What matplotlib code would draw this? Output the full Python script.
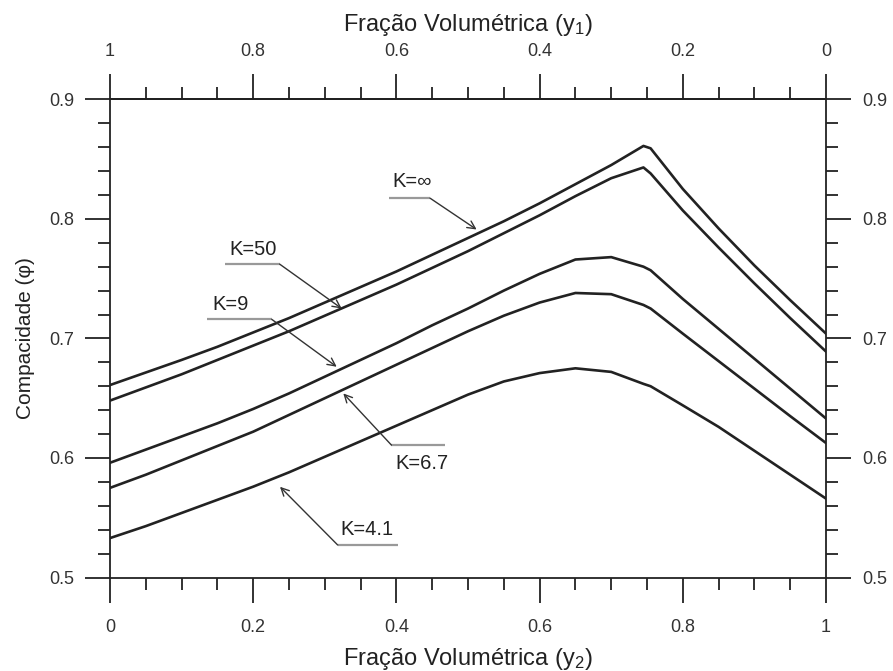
import matplotlib
matplotlib.use('Agg')
import matplotlib.pyplot as plt
from matplotlib.ticker import MultipleLocator, FixedLocator, FuncFormatter

plt.rcParams['font.family'] = ['Liberation Sans', 'DejaVu Sans']
plt.rcParams['mathtext.default'] = 'regular'

# volume fraction y2 (bottom axis); y1 = 1 - y2 on top axis
y2 = [0, 0.05, 0.1, 0.15, 0.2, 0.25, 0.3, 0.35, 0.4, 0.45, 0.5, 0.55, 0.6, 0.65, 0.7,
      0.745, 0.755, 0.8, 0.85, 0.9, 0.95, 1.0]

# packing density for each K
k_inf = [0.661, 0.6715, 0.682, 0.693, 0.705, 0.717, 0.730, 0.743, 0.756, 0.770, 0.784,
         0.798, 0.813, 0.829, 0.845, 0.861, 0.859, 0.825, 0.792, 0.761, 0.732, 0.704]
k_50 = [0.648, 0.659, 0.670, 0.682, 0.694, 0.706, 0.719, 0.732, 0.745, 0.759, 0.773,
        0.788, 0.803, 0.819, 0.834, 0.843, 0.838, 0.807, 0.776, 0.746, 0.717, 0.689]
k_9 = [0.596, 0.607, 0.618, 0.629, 0.641, 0.654, 0.668, 0.682, 0.696, 0.711, 0.725,
       0.740, 0.754, 0.766, 0.768, 0.760, 0.757, 0.733, 0.708, 0.683, 0.658, 0.633]
k_67 = [0.575, 0.586, 0.598, 0.610, 0.622, 0.636, 0.650, 0.664, 0.678, 0.692, 0.706,
        0.719, 0.730, 0.738, 0.737, 0.728, 0.725, 0.704, 0.681, 0.658, 0.635, 0.6125]
k_41 = [0.533, 0.543, 0.554, 0.565, 0.576, 0.588, 0.601, 0.614, 0.627, 0.640, 0.653,
        0.664, 0.671, 0.675, 0.672, 0.662, 0.660, 0.644, 0.626, 0.606, 0.586, 0.566]

curves = [k_inf, k_50, k_9, k_67, k_41]

# annotation labels: text, text centre, underline (x0, x1, y), arrow tip
labels = ['K=∞', 'K=50', 'K=9', 'K=6.7', 'K=4.1']
text_xy = [(0.422, 0.8315), (0.200, 0.774), (0.168, 0.728), (0.436, 0.5953), (0.359, 0.540)]
under = [(0.390, 0.447, 0.8173), (0.161, 0.237, 0.7621), (0.135, 0.226, 0.7159),
         (0.468, 0.393, 0.6108), (0.402, 0.318, 0.5272)]
tips = [(0.512, 0.7911), (0.3236, 0.725), (0.3166, 0.6763), (0.3258, 0.654), (0.2374, 0.5759)]

fig = plt.figure(figsize=(8.93, 6.71), dpi=100)
ax = fig.add_axes([0.1232, 0.1393, 0.8018, 0.7127])

for c in curves:
    ax.plot(y2, c, color='#222222', lw=1.9, solid_joinstyle='round')

for lab, txy, u, tip in zip(labels, text_xy, under, tips):
    ax.text(txy[0], txy[1], lab, ha='center', va='center', fontsize=14.5, color='#222222')
    ax.plot([u[0], u[1]], [u[2], u[2]], color='#999999', lw=1.6, solid_capstyle='butt')
    ax.annotate('', xy=tip, xytext=(u[1], u[2]),
                arrowprops=dict(arrowstyle='->', color='#333333', lw=1.0,
                                shrinkA=0, shrinkB=0, mutation_scale=14))

ax.set_xlim(0, 1)
ax.set_ylim(0.5, 0.9)

fmt = FuncFormatter(lambda v, p: '%g' % round(v, 2))
ax.xaxis.set_major_locator(MultipleLocator(0.2))
ax.xaxis.set_minor_locator(MultipleLocator(0.05))
ax.yaxis.set_major_locator(MultipleLocator(0.1))
ax.yaxis.set_minor_locator(MultipleLocator(0.02))
ax.xaxis.set_major_formatter(fmt)
ax.yaxis.set_major_formatter(fmt)

for s in ax.spines.values():
    s.set_linewidth(1.3)
    s.set_color('#222222')

ax.tick_params(which='both', direction='out', width=1.3, color='#222222',
               labelsize=13, labelcolor='#333333', top=False, right=True, labelright=True)
ax.tick_params(which='major', length=18)
ax.tick_params(which='minor', length=8.5)
ax.tick_params(axis='x', which='major', pad=12)
ax.tick_params(axis='y', which='major', pad=8)

sec = ax.secondary_xaxis('top', functions=(lambda x: 1 - x, lambda x: 1 - x))
sec.xaxis.set_major_locator(FixedLocator([1, 0.8, 0.6, 0.4, 0.2, 0]))
sec.xaxis.set_minor_locator(MultipleLocator(0.05))
sec.xaxis.set_major_formatter(fmt)
sec.spines['top'].set_linewidth(1.3)
sec.tick_params(which='both', direction='out', width=1.3, color='#222222',
                labelsize=13, labelcolor='#333333')
sec.tick_params(which='major', length=18, pad=10)
sec.tick_params(which='minor', length=8.5)
sec.set_xlabel('Fração Volumétrica ($y_1$)', fontsize=17, color='#222222', labelpad=9)

ax.set_xlabel('Fração Volumétrica ($y_2$)', fontsize=17, color='#222222', labelpad=7)
ax.set_ylabel('Compacidade (φ)', fontsize=15, color='#222222', labelpad=10)

fig.savefig('out.png', dpi=100)
